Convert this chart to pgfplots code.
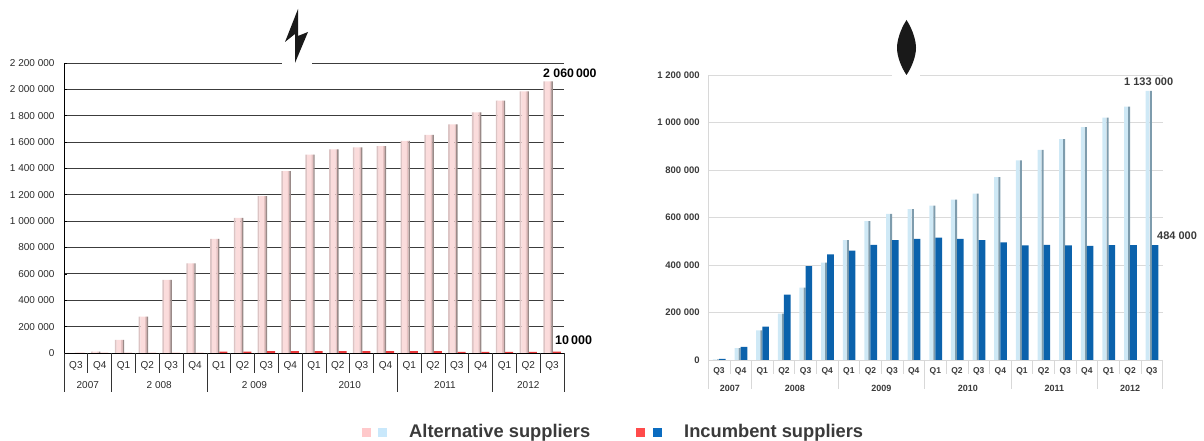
\documentclass[border=0pt]{standalone}
\usepackage{pgfplots}
\pgfplotsset{compat=1.18}
\usepackage{fontspec}
\setmainfont{Liberation Sans}
\definecolor{gridL}{HTML}{3C3C3C}
\definecolor{gridR}{HTML}{DADADA}
\definecolor{sepR}{HTML}{D8D8D8}
\definecolor{txt}{HTML}{2A2A2A}
\definecolor{txtB}{HTML}{3A3A3A}
\definecolor{redInc}{HTML}{E8383A}
\definecolor{blueInc}{HTML}{0B62AC}
\definecolor{legPink}{HTML}{FFC9CB}
\definecolor{legBlue}{HTML}{C9E8FB}
\definecolor{legRed}{HTML}{FF4B4B}
\definecolor{legNavy}{HTML}{0B6CC0}
\definecolor{pinkEdge}{HTML}{DCC4C4}
\definecolor{pinkCore}{HTML}{FBDCDC}
\definecolor{pinkSide}{HTML}{E6C2C2}
\definecolor{pinkShadow}{HTML}{9A8A88}
\definecolor{blueCore}{HTML}{CFE9F6}
\definecolor{blueShadow}{HTML}{7E9CAD}

% Connections per quarter, Q3 2007 to Q3 2012
\pgfplotstableread{
q alt inc
0 0 0
1 10000 0
2 100000 0
3 275000 0
4 555000 0
5 680000 0
6 865000 10000
7 1025000 10000
8 1190000 14000
9 1380000 14000
10 1505000 14000
11 1545000 14000
12 1560000 14000
13 1570000 14000
14 1610000 14000
15 1655000 14000
16 1735000 8000
17 1825000 8000
18 1915000 9000
19 1985000 9000
20 2060000 10000
}\electricity
\pgfplotstableread{
q alt inc
0 3000 5000
1 50000 55000
2 125000 140000
3 195000 275000
4 305000 395000
5 410000 445000
6 505000 460000
7 585000 485000
8 615000 505000
9 635000 510000
10 650000 515000
11 675000 510000
12 700000 505000
13 770000 495000
14 840000 483000
15 885000 485000
16 930000 483000
17 980000 480000
18 1020000 484000
19 1067000 484000
20 1133000 484000
}\gasdata

% One vertical strip of a bar; several side by side give the rounded look
\newcommand{\barstrip}[5]{%
  \addplot[ybar, bar width=#2pt, bar shift=#1pt, draw=none, fill=#3]
    table[x=q,y=#5]{#4};}

\pgfplotsset{quarters/.style={
  scale only axis, xmin=-0.5, xmax=20.5, ymin=0, clip=false,
  scaled y ticks=false,
  xtick={0,...,20},
  xticklabels={Q3,Q4,Q1,Q2,Q3,Q4,Q1,Q2,Q3,Q4,Q1,Q2,Q3,Q4,Q1,Q2,Q3,Q4,Q1,Q2,Q3},
  ymajorgrids, axis y line*=left, axis x line*=bottom,
  x tick style={draw=none},
}}

\begin{document}
\begin{tikzpicture}[x=1pt,y=1pt]
\path[use as bounding box] (0,0) rectangle (1204,441);

% Electricity panel
\begin{axis}[quarters, at={(64pt,88pt)}, anchor=south west, width=500pt, height=290pt,
  ymax=2200000, ytick={0,200000,...,2200000},
  yticklabels={0,200 000,400 000,600 000,800 000,1 000 000,1 200 000,1 400 000,1 600 000,1 800 000,2 000 000,2 200 000},
  grid style={gridL, line width=0.9pt},
  axis line style={black, line width=0.9pt, -},
  y tick style={black, line width=0.8pt},
  major tick length=3pt,
  yticklabel style={font=\fontsize{10}{12}\selectfont, text=txt, xshift=-6pt},
  xticklabel style={font=\fontsize{10}{12}\selectfont, text=txt, yshift=-5pt},
]
\barstrip{-7.8}{1.8}{pinkEdge}{\electricity}{alt}
\barstrip{-4.6}{4.8}{pinkCore}{\electricity}{alt}
\barstrip{-1.4}{1.8}{pinkSide}{\electricity}{alt}
\barstrip{0.0}{1.4}{pinkShadow}{\electricity}{alt}
\barstrip{4.7}{8.0}{redInc}{\electricity}{inc}
\end{axis}

% Gas panel
\begin{axis}[quarters, at={(708.2pt,81pt)}, anchor=south west, width=454.4pt, height=285pt,
  ymax=1200000, ytick={0,200000,...,1200000},
  yticklabels={0,200 000,400 000,600 000,800 000,1 000 000,1 200 000},
  grid style={gridR, line width=0.8pt},
  y axis line style={draw=sepR, line width=1.2pt, -},
  x axis line style={draw=sepR, line width=0.8pt, -},
  y tick style={draw=none},
  major tick length=0pt,
  yticklabel style={font=\fontsize{9.5}{11}\selectfont\bfseries, text=txtB, xshift=-5pt},
  xticklabel style={font=\fontsize{8.5}{10}\selectfont\bfseries, text=txtB, yshift=-4pt},
]
\barstrip{-4.2}{3.8}{blueCore}{\gasdata}{alt}
\barstrip{-1.0}{2.0}{blueShadow}{\gasdata}{alt}
\barstrip{3.3}{6.6}{blueInc}{\gasdata}{inc}
\end{axis}

% Two-level quarter and year separators
\foreach \k in {0,...,21}{
  \draw[black!80, line width=0.7pt] ({64+23.81*\k},88) -- ++(0,-20);
  \draw[sepR, line width=0.7pt] ({708.2+21.64*\k},81) -- ++(0,-14);
}
\foreach \k in {0,2,6,10,14,18,21}{
  \draw[black!80, line width=0.7pt] ({64+23.81*\k},68) -- ++(0,-19);
  \draw[sepR, line width=0.7pt] ({708.2+21.64*\k},67) -- ++(0,-15);
}
\foreach \a/\b/\t in {0/2/2007,2/6/2 008,6/10/2 009,10/14/2010,14/18/2011,18/21/2012}
  \node[font=\fontsize{10}{12}\selectfont, text=txt] at ({64+23.81*(\a+\b)/2},55.5) {\t};
\foreach \a/\b/\t in {0/2/2007,2/6/2008,6/10/2009,10/14/2010,14/18/2011,18/21/2012}
  \node[font=\fontsize{9}{10}\selectfont\bfseries, text=txtB] at ({708.2+21.64*(\a+\b)/2},53) {\t};

% End-of-series labels
\node[font=\fontsize{12.3}{14}\selectfont\bfseries, text=black, anchor=west, inner sep=0pt] at (543,368) {2 060\,000};
\node[font=\fontsize{12.5}{14}\selectfont\bfseries, text=black, anchor=west, inner sep=0pt] at (555,101) {10\,000};
\node[font=\fontsize{11}{13}\selectfont\bfseries, text=txtB, anchor=west, inner sep=0pt] at (1124,359) {1 133 000};
\node[font=\fontsize{11}{13}\selectfont\bfseries, text=txtB, anchor=west, inner sep=0pt] at (1157,205) {484 000};

% Panel symbols over a break in the top gridline
\fill[white] (282,372) rectangle (312,384);
\fill[black!90] (298,432) -- (285,399) -- (295,407) -- (295,378) -- (308,409) -- (298,405) -- cycle;
\fill[white] (892,360) rectangle (920,372);
\fill[black!90] (906.5,421) .. controls (913,411) and (916,400) .. (916,393) .. controls (916,385) and (912,374) .. (906.5,366) .. controls (901,374) and (897,385) .. (897,393) .. controls (897,400) and (900,411) .. (906.5,421) -- cycle;

% Legend
\fill[legPink] (362,3.5) rectangle (371,12.5);
\fill[legBlue] (378,3.5) rectangle (387,12.5);
\node[font=\fontsize{18.3}{20}\selectfont\bfseries, text=txtB, anchor=base west, inner sep=0pt] at (409,3.5) {Alternative suppliers};
\fill[legRed] (636,3.5) rectangle (645,12.5);
\fill[legNavy] (653,3.5) rectangle (662,12.5);
\node[font=\fontsize{18.3}{20}\selectfont\bfseries, text=txtB, anchor=base west, inner sep=0pt] at (684,3.5) {Incumbent suppliers};
\end{tikzpicture}
\end{document}
